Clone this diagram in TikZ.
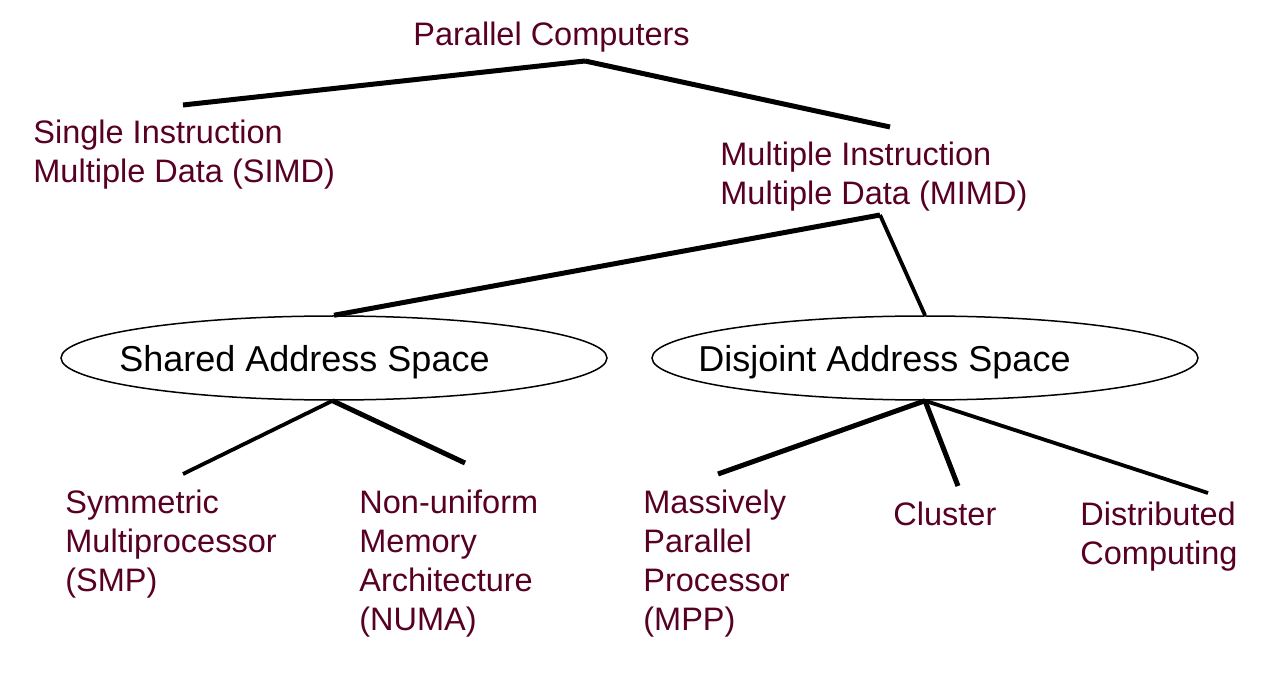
\documentclass[tikz,border=0pt]{standalone}
\usepackage{fontspec}
\setmainfont{Liberation Sans}
\usetikzlibrary{shapes.geometric}
\definecolor{maroontext}{RGB}{88,0,36}

\begin{document}
\begin{tikzpicture}[x=0.5pt,y=-0.5pt,
							textnode/.style={anchor=north west, inner sep=0pt, align=left, text=maroontext, font=\fontsize{16.25}{19.5}\selectfont},
							spacenode/.style={ellipse, draw=black, line width=0.75pt, inner sep=0pt, minimum width=273pt, minimum height=42pt},
							spacetext/.style={inner sep=0pt, yshift=-2pt, font=\fontsize{18}{21}\selectfont},
							thickline/.style={line width=2.5pt},
							thinline/.style={line width=1.9pt},
							]
							\useasboundingbox (0,0) rectangle (1284,673);
							%Nodes
							\node[textnode]      (pc) 	at 	(413,22)           {Parallel Computers};
							\node[textnode]      (simd) 	at 	(33,120)           {Single Instruction\\Multiple Data (SIMD)};
							\node[textnode]      (mimd) 	at 	(720,142)           {Multiple Instruction\\Multiple Data (MIMD)};
							\node[spacenode, label={[spacetext, xshift=-14.75pt]center:Shared Address Space}]      (shared) 	at 	(334,358)           {};
							\node[spacenode, label={[spacetext, xshift=-20.25pt]center:Disjoint Address Space}]      (disjoint) 	at 	(925,358)           {};
							\node[textnode]      (smp) 	at 	(65,490)           {Symmetric\\Multiprocessor\\(SMP)};
							\node[textnode]      (numa) 	at 	(359,490)           {Non-uniform\\Memory\\Architecture\\(NUMA)};
							\node[textnode]      (mpp) 	at 	(643,490)           {Massively\\Parallel\\Processor\\(MPP)};
							\node[textnode]      (cluster) 	at 	(893,502)           {Cluster};
							\node[textnode]      (dist) 	at 	(1080,502)           {Distributed\\Computing};
							
							%Line ends
							\coordinate (pc-j) at (585,61);
							\coordinate (simd-j) at (183,105);
							\coordinate (mimd-in) at (890,127);
							\coordinate (mimd-j) at (880,215);
							\coordinate (smp-j) at (183,474);
							\coordinate (numa-j) at (465,463);
							\coordinate (mpp-j) at (718,474);
							\coordinate (cluster-j) at (958,486);
							\coordinate (dist-j) at (1208,493);
							
							\draw[thickline] (pc-j) --  (simd-j);
							\draw[thickline] (pc-j) --  (mimd-in);
							\draw[thickline] (mimd-j) --  (shared.north);
							\draw[thinline] (mimd-j) --  (disjoint.north);
							\draw[thinline] (shared.268) --  (smp-j);
							\draw[thickline] (shared.268) --  (numa-j);
							\draw[thickline] (disjoint.south) --  (mpp-j);
							\draw[thickline] (disjoint.south) --  (cluster-j);
							\draw[thinline] (disjoint.south) --  (dist-j);
						\end{tikzpicture}
\end{document}
